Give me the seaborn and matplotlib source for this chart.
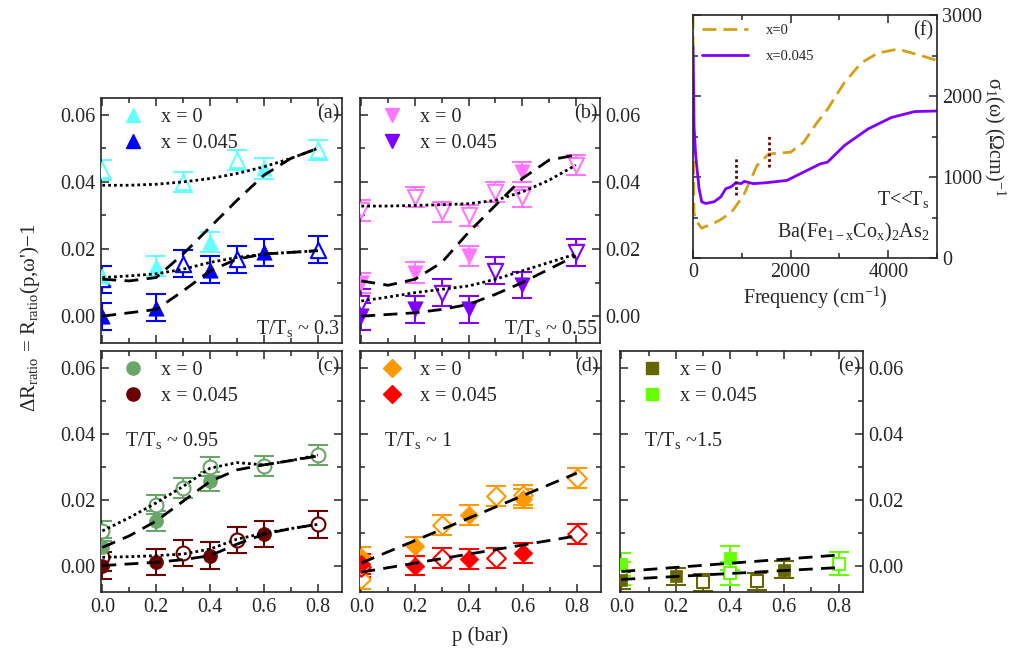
import numpy as np
import pandas as pd
import matplotlib
matplotlib.use("Agg")
import matplotlib.pyplot as plt
from matplotlib.lines import Line2D
from matplotlib.ticker import MultipleLocator, FormatStrFormatter
import seaborn as sns

# ---------------- data ----------------
p_fit = [0.0, 0.1, 0.2, 0.3, 0.4, 0.5, 0.6, 0.7, 0.8]
p_lin = [0.0, 0.8]

# panel (a)
a_f0_p = [0.0, 0.2, 0.4, 0.6]
a_f0_y = [0.012, 0.015, 0.022, 0.044]
a_f1_p = [0.0, 0.2, 0.4, 0.6]
a_f1_y = [0.0, 0.0025, 0.0138, 0.019]
a_o0_p = [0.0, 0.3, 0.5, 0.8]
a_o0_y = [0.0435, 0.040, 0.0465, 0.0495]
a_o1_p = [0.0, 0.3, 0.5, 0.8]
a_o1_y = [0.011, 0.0156, 0.017, 0.0198]
a_dash0 = [0.011, 0.0105, 0.0115, 0.0185, 0.0265, 0.0345, 0.042, 0.047, 0.050]
a_dash1 = [0.0, 0.001, 0.002, 0.0075, 0.0135, 0.017, 0.0185, 0.019, 0.0195]
a_dot0 = [0.039, 0.039, 0.0393, 0.040, 0.041, 0.0425, 0.0445, 0.047, 0.050]
a_dot1 = [0.0115, 0.012, 0.0126, 0.014, 0.016, 0.0175, 0.0185, 0.019, 0.0195]

# panel (b)
b_f0_p = [0.0, 0.2, 0.4, 0.6]
b_f0_y = [0.010, 0.013, 0.018, 0.043]
b_f1_p = [0.0, 0.2, 0.4, 0.6]
b_f1_y = [0.0, 0.002, 0.002, 0.0093]
b_o0_p = [0.0, 0.2, 0.3, 0.4, 0.5, 0.6, 0.8]
b_o0_y = [0.0315, 0.0355, 0.031, 0.030, 0.037, 0.0355, 0.045]
b_o1_p = [0.0, 0.3, 0.5, 0.8]
b_o1_y = [0.004, 0.007, 0.0135, 0.019]
b_dash0 = [0.0105, 0.0092, 0.011, 0.016, 0.025, 0.033, 0.041, 0.0465, 0.048]
b_dash1 = [0.0, 0.0005, 0.001, 0.002, 0.0035, 0.0065, 0.010, 0.014, 0.0180]
b_dot0 = [0.0328, 0.0328, 0.033, 0.0332, 0.0335, 0.0345, 0.037, 0.0405, 0.045]
b_dot1 = [0.0045, 0.0057, 0.007, 0.008, 0.009, 0.011, 0.0135, 0.016, 0.0185]

# panel (c)
c_f0_p = [0.0, 0.2, 0.4]
c_f0_y = [0.0055, 0.0135, 0.0255]
c_f1_p = [0.0, 0.2, 0.4, 0.6]
c_f1_y = [0.0, 0.001, 0.003, 0.0095]
c_o0_p = [0.0, 0.2, 0.3, 0.4, 0.6, 0.8]
c_o0_y = [0.0105, 0.0185, 0.0235, 0.030, 0.0302, 0.0335]
c_o1_p = [0.0, 0.3, 0.5, 0.8]
c_o1_y = [0.0025, 0.0038, 0.0078, 0.0125]
c_dash0 = [0.0055, 0.009, 0.0135, 0.0195, 0.0255, 0.029, 0.0305, 0.0318, 0.0332]
c_dash1 = [0.0, 0.0005, 0.001, 0.0018, 0.003, 0.0065, 0.0095, 0.0112, 0.0125]
c_dot0 = [0.0105, 0.0145, 0.019, 0.024, 0.0295, 0.0312, 0.0305, 0.0318, 0.0335]
c_dot1 = [0.0025, 0.0027, 0.003, 0.0035, 0.005, 0.008, 0.0098, 0.0112, 0.0125]

# panel (d)
d_f0_p = [0.0, 0.2, 0.4, 0.6]
d_f0_y = [0.0025, 0.0058, 0.0153, 0.0203]
d_f1_p = [0.0, 0.2, 0.4, 0.6]
d_f1_y = [0.0005, 0.0, 0.002, 0.0038]
d_o0_p = [0.0, 0.3, 0.5, 0.6, 0.8]
d_o0_y = [-0.0042, 0.0123, 0.0211, 0.0213, 0.0265]
d_o1_p = [0.0, 0.3, 0.5, 0.8]
d_o1_y = [-0.0004, 0.0023, 0.0023, 0.0095]
d_dash0 = [0.0008, 0.028]
d_dash1 = [-0.002, 0.009]

# panel (e)
e_f0_p = [0.0, 0.2, 0.6]
e_f0_y = [-0.0045, -0.0033, -0.0012]
e_f1_p = [0.0, 0.4]
e_f1_y = [0.0004, 0.0023]
e_o0_p = [0.3, 0.5]
e_o0_y = [-0.0051, -0.0048]
e_o1_p = [0.0, 0.4, 0.8]
e_o1_y = [-0.0023, -0.0023, 0.0005]
e_dash0 = [-0.0018, 0.0032]
e_dash1 = [-0.0042, -0.0006]

# panel (f) spectra
f0_freq = [0, 8, 20, 76, 179, 247, 351, 557, 797, 1037, 1312, 1553, 1794, 2000,
           2268, 2543, 2756, 3100, 3443, 3787, 4200, 4612, 5000]
f0_sig = [3000, 1400, 560, 449, 367, 388, 408, 469, 571, 775, 1142, 1285, 1297, 1306,
          1428, 1673, 1836, 2163, 2407, 2530, 2579, 2509, 2440]
f1_freq = [0, 14, 21, 55, 124, 179, 261, 433, 570, 673, 777, 880, 983, 1052, 1237,
           1512, 1924, 2268, 2612, 2756, 3100, 3581, 4062, 4543, 5000]
f1_sig = [2611, 2040, 1632, 1264, 857, 694, 673, 694, 755, 857, 877, 930, 918, 946, 918,
          930, 958, 1061, 1163, 1183, 1387, 1591, 1734, 1808, 1815]
mark_freq = [890, 1553]
mark_lo = [775, 1122]
mark_hi = [1264, 1530]

temps = ["T/T$\\mathregular{_s}$ ~ 0.3", "T/T$\\mathregular{_s}$ ~ 0.55",
         "T/T$\\mathregular{_s}$ ~ 0.95", "T/T$\\mathregular{_s}$ ~ 1",
         "T/T$\\mathregular{_s}$ ~1.5"]
leg_labels = ["x = 0", "x = 0.045"]

# ---------------- style ----------------
sns.set_theme(style="ticks")
plt.rcParams["font.family"] = ["Liberation Serif", "DejaVu Serif"]
plt.rcParams["mathtext.fontset"] = "stix"
plt.rcParams["axes.linewidth"] = 1.2

W, H = 1027, 657
fig = plt.figure(figsize=(W / 100, H / 100), dpi=100)


def box(x0, y0, x1, y1):
    return [x0 / W, 1 - y1 / H, (x1 - x0) / W, (y1 - y0) / H]


FS = 14.5
DASH = (0, (5, 3))
DOT = (0, (1, 1.1))


def panel(ax, marker, ms, c0, c1, f0, f1, o0, o1, e0, e1, curves, tag, temp, temp_pos,
          labelleft, labelright, labelbottom):
    # error bars
    for (px, py), col, err in [(f0, c0, e0), (f1, c1, e1), (o0, c0, e0), (o1, c1, e1)]:
        ax.errorbar(px, py, yerr=err, fmt="none", ecolor=col, elinewidth=1.5,
                    capsize=7, capthick=1.5, zorder=2)
    # open markers
    for (px, py), col in [(o0, c0), (o1, c1)]:
        sns.scatterplot(x=px, y=py, ax=ax, marker=marker, s=ms ** 2, facecolor="white",
                        edgecolor=col, linewidth=1.5, zorder=3)
    # filled markers
    for (px, py), col in [(f0, c0), (f1, c1)]:
        sns.scatterplot(x=px, y=py, ax=ax, marker=marker, s=ms ** 2, color=col,
                        edgecolor=col, linewidth=0.5, zorder=4)
    # fit curves
    for xs, ys, ls in curves:
        sns.lineplot(x=xs, y=ys, ax=ax, color="black", linewidth=2.0, linestyle=ls,
                     zorder=5, sort=False)
    ax.set_xlim(-0.005, 0.89)
    ax.set_ylim(-0.008, 0.065)
    ax.xaxis.set_major_locator(MultipleLocator(0.2))
    ax.xaxis.set_minor_locator(MultipleLocator(0.1))
    ax.yaxis.set_major_locator(MultipleLocator(0.02))
    ax.yaxis.set_minor_locator(MultipleLocator(0.01))
    ax.xaxis.set_major_formatter(FormatStrFormatter("%.1f"))
    ax.yaxis.set_major_formatter(FormatStrFormatter("%.2f"))
    ax.tick_params(which="both", direction="in", top=True, right=True,
                   labelleft=labelleft, labelright=labelright, labelbottom=labelbottom,
                   labelsize=FS, width=1.1, pad=4)
    ax.tick_params(which="major", length=6)
    ax.tick_params(which="minor", length=3.5)
    handles = [Line2D([], [], marker=marker, ls="none", color=c, markersize=ms * 0.95)
               for c in (c0, c1)]
    ax.legend(handles, leg_labels, loc="upper left", bbox_to_anchor=(0.04, 1.0),
              frameon=False, fontsize=FS, handletextpad=0.8, borderaxespad=0.2,
              labelspacing=0.35, handlelength=1.2, borderpad=0.3)
    ax.text(0.99, 0.975, tag, transform=ax.transAxes, ha="right", va="top", fontsize=FS)
    ax.text(temp_pos[0], temp_pos[1], temp, transform=ax.transAxes,
            ha=temp_pos[2], va="center", fontsize=FS)
    ax.set_xlabel("")
    ax.set_ylabel("")


ax_a = fig.add_axes(box(101, 98, 342, 343))
ax_b = fig.add_axes(box(360, 98, 600, 343))
ax_c = fig.add_axes(box(101, 351, 342, 592))
ax_d = fig.add_axes(box(360, 351, 601, 592))
ax_e = fig.add_axes(box(620, 351, 863, 592))
ax_f = fig.add_axes(box(693, 15, 937, 258))

panel(ax_a, "^", 11, "#66FFFF", "#0000FF",
      (a_f0_p, a_f0_y), (a_f1_p, a_f1_y), (a_o0_p, a_o0_y), (a_o1_p, a_o1_y), 0.003, 0.004,
      [(p_fit, a_dash0, DASH), (p_fit, a_dash1, DASH), (p_fit, a_dot0, DOT), (p_fit, a_dot1, DOT)],
      "(a)", temps[0], (0.99, 0.06, "right"), True, False, False)
panel(ax_b, "v", 11, "#FF77FF", "#7F00FF",
      (b_f0_p, b_f0_y), (b_f1_p, b_f1_y), (b_o0_p, b_o0_y), (b_o1_p, b_o1_y), 0.003, 0.004,
      [(p_fit, b_dash0, DASH), (p_fit, b_dash1, DASH), (p_fit, b_dot0, DOT), (p_fit, b_dot1, DOT)],
      "(b)", temps[1], (0.99, 0.06, "right"), False, True, False)
panel(ax_c, "o", 10, "#6AA56A", "#6B0000",
      (c_f0_p, c_f0_y), (c_f1_p, c_f1_y), (c_o0_p, c_o0_y), (c_o1_p, c_o1_y), 0.003, 0.004,
      [(p_fit, c_dash0, DASH), (p_fit, c_dash1, DASH), (p_fit, c_dot0, DOT), (p_fit, c_dot1, DOT)],
      "(c)", temps[2], (0.1, 0.63, "left"), True, False, True)
panel(ax_d, "D", 9.5, "#FF9900", "#FF0000",
      (d_f0_p, d_f0_y), (d_f1_p, d_f1_y), (d_o0_p, d_o0_y), (d_o1_p, d_o1_y), 0.003, 0.003,
      [(p_lin, d_dash0, DASH), (p_lin, d_dash1, DASH)],
      "(d)", temps[3], (0.1, 0.63, "left"), False, False, True)
panel(ax_e, "s", 9, "#666600", "#66FF00",
      (e_f0_p, e_f0_y), (e_f1_p, e_f1_y), (e_o0_p, e_o0_y), (e_o1_p, e_o1_y), 0.0025, 0.0035,
      [(p_lin, e_dash0, DASH), (p_lin, e_dash1, DASH)],
      "(e)", temps[4], (0.1, 0.63, "left"), False, True, True)

# panel (f)
sns.lineplot(x=f0_freq, y=f0_sig, ax=ax_f, color="#D4A017", linewidth=2.0,
             linestyle=(0, (5, 2.5)), sort=False, label="x=0")
sns.lineplot(x=f1_freq, y=f1_sig, ax=ax_f, color="#7F00FF", linewidth=2.0,
             sort=False, label="x=0.045")
ax_f.vlines(mark_freq, mark_lo, mark_hi, colors="#6B0000", linestyles=(0, (1, 1)),
            linewidth=2.0)
ax_f.set_xlim(0, 5000)
ax_f.set_ylim(0, 3000)
ax_f.xaxis.set_major_locator(MultipleLocator(2000))
ax_f.xaxis.set_minor_locator(MultipleLocator(1000))
ax_f.yaxis.set_major_locator(MultipleLocator(1000))
ax_f.yaxis.set_minor_locator(MultipleLocator(500))
ax_f.tick_params(which="both", direction="in", top=True, right=True, labelleft=False,
                 labelright=True, labelsize=FS, width=1.1)
ax_f.tick_params(which="major", length=6)
ax_f.tick_params(which="minor", length=3.5)
ax_f.yaxis.set_label_position("right")
ax_f.set_ylabel("σ$\\mathregular{_1}$(ω) (Ωcm)$\\mathregular{^{-1}}$", fontsize=FS,
                rotation=270, labelpad=18)
ax_f.set_xlabel("Frequency (cm$\\mathregular{^{-1}}$)", fontsize=FS, labelpad=2)
ax_f.legend(loc="upper left", frameon=False, fontsize=10.5, handlelength=3.2,
            handletextpad=1.2, borderaxespad=0.2, labelspacing=0.9)
ax_f.text(0.985, 0.975, "(f)", transform=ax_f.transAxes, ha="right", va="top", fontsize=FS)
ax_f.text(0.97, 0.24, "T<<T$\\mathregular{_s}$", transform=ax_f.transAxes, ha="right",
          va="center", fontsize=FS)
ax_f.text(0.97, 0.105, "Ba(Fe$\\mathregular{_{1-x}}$Co$\\mathregular{_x}$)$\\mathregular{_2}$As$\\mathregular{_2}$",
          transform=ax_f.transAxes, ha="right", va="center", fontsize=FS)

fig.text(30 / W, 1 - 318 / H,
         "ΔR$\\mathregular{_{ratio}}$ = R$\\mathregular{_{ratio}}$(p,ω')−1",
         rotation=90, ha="center", va="center", fontsize=15)
fig.text(480 / W, 1 - 636 / H, "p (bar)", ha="center", va="center", fontsize=15)

fig.savefig("out.png", dpi=100)
